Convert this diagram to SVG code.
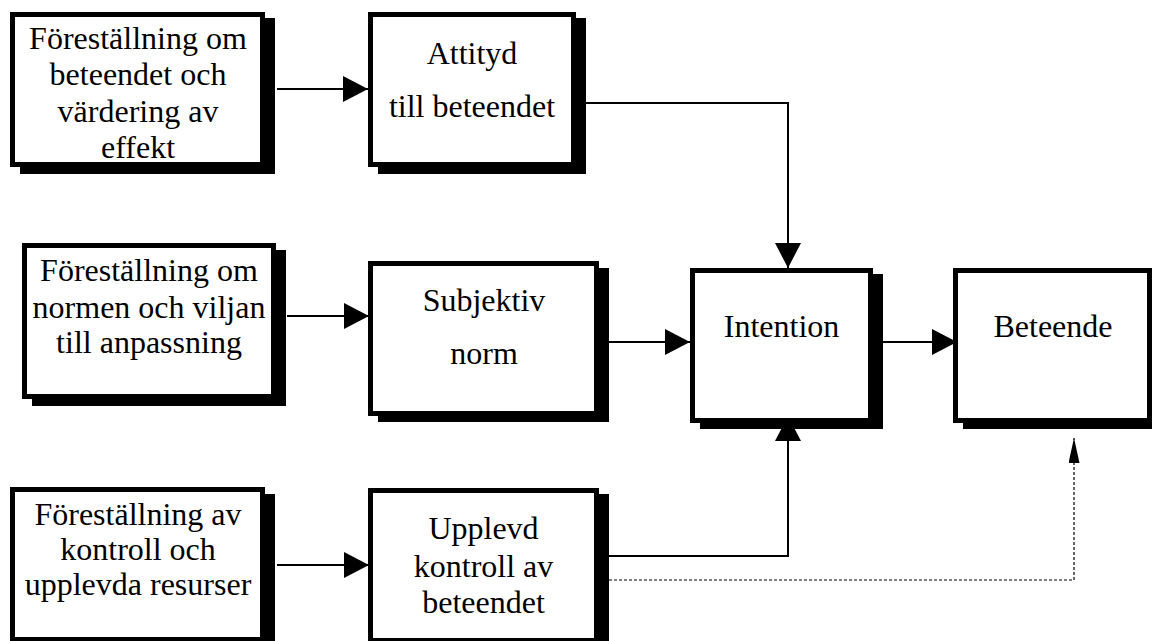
<svg xmlns="http://www.w3.org/2000/svg" width="1152" height="641" viewBox="0 0 1152 641">
<style>
.sh{fill:#000}
.bx{fill:#fff;stroke:#000;stroke-width:5}
.t{font-family:"Liberation Serif","Times New Roman",serif;font-size:32px;fill:#000;text-anchor:middle}
.c{fill:none;stroke:#000;stroke-width:2}
.d{fill:none;stroke:#000;stroke-width:1.2;stroke-dasharray:3 2}
</style>
<defs>
<marker id="ah" markerUnits="userSpaceOnUse" markerWidth="26" markerHeight="26" refX="25" refY="13" orient="auto"><path d="M0,0 L25,13 L0,26 z" fill="#000"/></marker>
<marker id="ahs" markerUnits="userSpaceOnUse" markerWidth="26" markerHeight="12" refX="25" refY="5.5" orient="auto"><path d="M0,0 L25,5.5 L0,11 z" fill="#000"/></marker>
</defs>
<rect width="1152" height="641" fill="#fff"/>
<g id="connectors">
<path class="c" d="M277,89 H368" marker-end="url(#ah)"/>
<path class="c" d="M287,316 H369" marker-end="url(#ah)"/>
<path class="c" d="M277,565 H369" marker-end="url(#ah)"/>
<path class="c" d="M586,103 H788 V268" marker-end="url(#ah)"/>
<path class="c" d="M609,342 H690" marker-end="url(#ah)"/>
<path class="c" d="M883,342 H957" marker-end="url(#ah)"/>
<path class="c" d="M609,556 H788 V416" marker-end="url(#ah)"/>
<path class="d" d="M609,580 H1074 V438" marker-end="url(#ahs)"/>
</g>
<g id="n1">
<rect class="sh" x="20" y="18" width="255" height="156"/>
<rect class="bx" x="12.5" y="14.5" width="250" height="150"/>
<text class="t" x="138" y="49">Föreställning om</text>
<text class="t" x="138" y="85">beteendet och</text>
<text class="t" x="138" y="122">värdering av</text>
<text class="t" x="138" y="158">effekt</text>
</g>
<g id="n2">
<rect class="sh" x="378" y="18" width="208" height="156"/>
<rect class="bx" x="370.5" y="14.5" width="203" height="150"/>
<text class="t" x="472" y="64">Attityd</text>
<text class="t" x="472" y="117">till beteendet</text>
</g>
<g id="n3">
<rect class="sh" x="32" y="250" width="254" height="156"/>
<rect class="bx" x="24.5" y="245.5" width="249" height="151"/>
<text class="t" x="149" y="281">Föreställning om</text>
<text class="t" x="149" y="318">normen och viljan</text>
<text class="t" x="149" y="353">till anpassning</text>
</g>
<g id="n4">
<rect class="sh" x="378" y="268" width="231" height="154"/>
<rect class="bx" x="370.5" y="263.5" width="226" height="150"/>
<text class="t" x="484" y="311">Subjektiv</text>
<text class="t" x="484" y="364">norm</text>
</g>
<g id="n5">
<rect class="sh" x="700" y="274" width="183" height="155"/>
<rect class="bx" x="692.5" y="270.5" width="178" height="150"/>
<text class="t" x="781.5" y="337">Intention</text>
</g>
<g id="n6">
<rect class="sh" x="963" y="274" width="200" height="155"/>
<rect class="bx" x="955.5" y="270.5" width="194" height="150"/>
<text class="t" x="1053" y="337">Beteende</text>
</g>
<g id="n7">
<rect class="sh" x="20" y="494" width="255" height="160"/>
<rect class="bx" x="12.5" y="489.5" width="250" height="150"/>
<text class="t" x="138" y="525">Föreställning av</text>
<text class="t" x="138" y="560">kontroll och</text>
<text class="t" x="138" y="595">upplevda resurser</text>
</g>
<g id="n8">
<rect class="sh" x="378" y="494" width="231" height="160"/>
<rect class="bx" x="370.5" y="490.5" width="226" height="150"/>
<text class="t" x="483.5" y="539">Upplevd</text>
<text class="t" x="483.5" y="577">kontroll av</text>
<text class="t" x="483.5" y="613">beteendet</text>
</g>
</svg>
